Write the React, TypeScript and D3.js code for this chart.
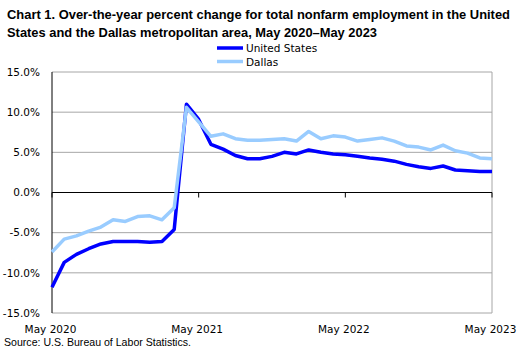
import * as d3 from 'd3';
import React from 'react';

// over-the-year percent change, May 2020 .. May 2023 (monthly)
const unitedStates = [
  -11.8, -8.7, -7.7, -7.0, -6.4, -6.1, -6.1, -6.1, -6.2, -6.1, -4.6, 11.0,
  9.1, 6.0, 5.4, 4.6, 4.2, 4.2, 4.5, 5.0, 4.8, 5.3, 5.0, 4.8,
  4.7, 4.5, 4.3, 4.15, 3.9, 3.5, 3.2, 3.0, 3.3, 2.8, 2.7, 2.6, 2.6,
];
const dallas = [
  -7.4, -5.8, -5.4, -4.8, -4.3, -3.4, -3.6, -3.0, -2.9, -3.4, -1.9, 10.6,
  8.8, 7.0, 7.3, 6.7, 6.5, 6.5, 6.6, 6.7, 6.4, 7.6, 6.7, 7.05,
  6.9, 6.4, 6.6, 6.8, 6.4, 5.8, 5.65, 5.3, 5.9, 5.2, 4.9, 4.3, 4.2,
];
const yTicks = [15, 10, 5, 0, -5, -10, -15];
const xTickLabels = ['May 2020', 'May 2021', 'May 2022', 'May 2023'];
const seriesNames = ['United States', 'Dallas'];

const W = 527, H = 354;
const m = { left: 52, right: 492, top: 72, bottom: 313 };
const colors = ['#0000ff', '#99ccff'];
const axisFont = '"DejaVu Sans", Verdana, sans-serif';
const titleFont = '"Liberation Sans Narrow", "Liberation Sans", Arial, sans-serif';

export default function App() {
  const months = d3.range(unitedStates.length);
  const x = d3.scaleLinear().domain([0, months.length - 1]).range([m.left, m.right]);
  const y = d3.scaleLinear().domain([-15, 15]).range([m.bottom, m.top]);
  const line = d3.line<number>().x((d, i) => x(i)).y(d => y(d));
  const tickIdx = xTickLabels.map((_, i) => i * 12);

  return (
    <svg width={W} height={H} style={{ position: 'absolute', left: 0, top: 0, background: '#fff' }}>
      <g fontFamily={titleFont} fontWeight="bold" fontSize={13} fill="#000">
        <text x={7} y={19} textLength={503} lengthAdjust="spacingAndGlyphs">
          Chart 1.  Over-the-year percent change for total nonfarm employment in the United
        </text>
        <text x={7} y={37} textLength={370} lengthAdjust="spacingAndGlyphs">
          States and the Dallas metropolitan area, May 2020–May  2023
        </text>
      </g>

      {seriesNames.map((name, i) => (
        <g key={name}>
          <line x1={217} x2={243} y1={48 + i * 13.5} y2={48 + i * 13.5} stroke={colors[i]} strokeWidth={3.5} />
          <text x={246} y={52 + i * 13.5} fontFamily={axisFont} fontSize={10.5}>{name}</text>
        </g>
      ))}

      {/* gridlines */}
      {yTicks.filter(t => t !== 0).map(t => (
        <line key={t} x1={m.left} x2={m.right} y1={y(t)} y2={y(t)} stroke="#a6a6a6" strokeWidth={1} />
      ))}
      <line x1={m.right} x2={m.right} y1={m.top} y2={m.bottom} stroke="#a6a6a6" strokeWidth={1} />
      <line x1={m.left} x2={m.left} y1={m.top} y2={m.bottom} stroke="#000" strokeWidth={1} />
      <line x1={m.left} x2={m.right} y1={y(0)} y2={y(0)} stroke="#000" strokeWidth={1} />
      {tickIdx.map(i => (
        <line key={i} x1={x(i)} x2={x(i)} y1={y(0)} y2={y(0) + 5} stroke="#000" strokeWidth={1} />
      ))}

      {yTicks.map(t => (
        <text key={t} x={40} y={y(t)} dy="0.35em" textAnchor="end" fontFamily={axisFont} fontSize={10.5}>
          {`${t.toFixed(1)}%`}
        </text>
      ))}
      {xTickLabels.map((lab, i) => (
        <text key={lab} x={x(tickIdx[i]) - 1.5} y={333} textAnchor="middle" fontFamily={axisFont} fontSize={10.5}>
          {lab}
        </text>
      ))}

      <path d={line(unitedStates) || ''} fill="none" stroke={colors[0]} strokeWidth={3.5} strokeLinejoin="round" />
      <path d={line(dallas) || ''} fill="none" stroke={colors[1]} strokeWidth={3.5} strokeLinejoin="round" />

      <text x={4} y={346} fontFamily='"Liberation Sans", Arial, sans-serif' fontSize={11} textLength={187} lengthAdjust="spacingAndGlyphs">
        Source: U.S. Bureau of Labor Statistics.
      </text>
    </svg>
  );
}
